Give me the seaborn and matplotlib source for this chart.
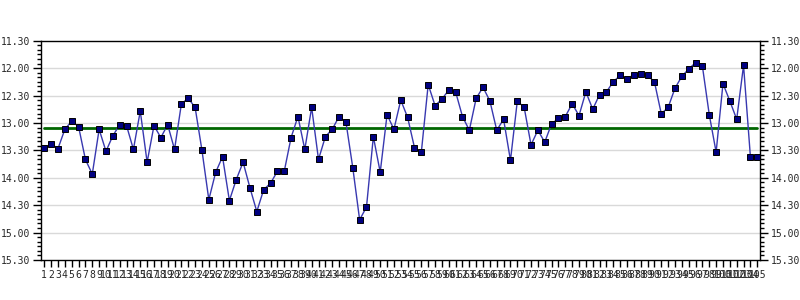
import matplotlib
matplotlib.use("Agg")
import matplotlib.pyplot as plt
import seaborn as sns
import pandas as pd
from matplotlib.ticker import MultipleLocator, FuncFormatter

# times in seconds (mm:ss -> seconds)
race = list(range(1, 106))
times = [807, 803, 808, 787, 778, 784, 820, 836, 787, 811,
         794, 782, 783, 809, 767, 823, 783, 796, 782, 809,
         759, 753, 763, 810, 864, 834, 817, 865, 842, 823,
         851, 877, 853, 846, 833, 833, 796, 773, 809, 763,
         820, 795, 787, 773, 779, 829, 886, 872, 795, 834,
         771, 787, 755, 774, 807, 812, 738, 761, 754, 744,
         746, 773, 788, 753, 741, 756, 788, 776, 821, 756,
         763, 804, 788, 801, 781, 775, 773, 759, 772, 746,
         765, 749, 746, 735, 728, 732, 727, 726, 728, 735,
         770, 763, 742, 729, 721, 714, 718, 771, 812, 737,
         756, 776, 717, 817, 817]
average = 786
tick_labels = [str(i) for i in race]

df = pd.DataFrame({"race": race, "time": times})
avg_df = pd.DataFrame({"race": [race[0], race[-1]], "time": [average, average]})

sns.set_style("white")
plt.rcParams["font.family"] = ["DejaVu Sans Mono", "DejaVu Sans"]

fig = plt.figure(figsize=(8, 3), dpi=100)
ax = fig.add_axes([41/800, 1-260/300, (760-41)/800, (260-40.7)/300])

for v in range(720, 930, 30):
    ax.axhline(v, color="#d9d9d9", lw=1, zorder=0)

sns.lineplot(data=avg_df, x="race", y="time", ax=ax, color="#006600", lw=2, zorder=2)
sns.lineplot(data=df, x="race", y="time", ax=ax, color="#3838b0", lw=1,
             marker="s", markersize=4.2, markerfacecolor="#000080",
             markeredgecolor="black", markeredgewidth=0.7, zorder=3)

ax.set_xlim(0.52, 105.4)
ax.set_ylim(930, 690)
ax.yaxis.set_major_locator(MultipleLocator(30))
ax.yaxis.set_minor_locator(MultipleLocator(5))
ax.yaxis.set_major_formatter(FuncFormatter(lambda v, p: f"{int(round(v))//60}.{int(round(v))%60:02d}"))
ax.set_xticks(race)
ax.set_xticklabels(tick_labels)
ax.tick_params(axis="y", which="major", left=True, right=True, labelleft=True,
               labelright=True, length=6, width=1, color="black", labelsize=7, pad=1.5)
ax.tick_params(axis="y", which="minor", left=True, right=True, length=3, width=1, color="black")
ax.tick_params(axis="x", which="major", bottom=True, length=5, width=1, color="black",
               labelsize=7, pad=2)
for s in ax.spines.values():
    s.set_color("black")
    s.set_linewidth(1)
ax.set_xlabel("")
ax.set_ylabel("")
fig.savefig("out.png", dpi=100)
